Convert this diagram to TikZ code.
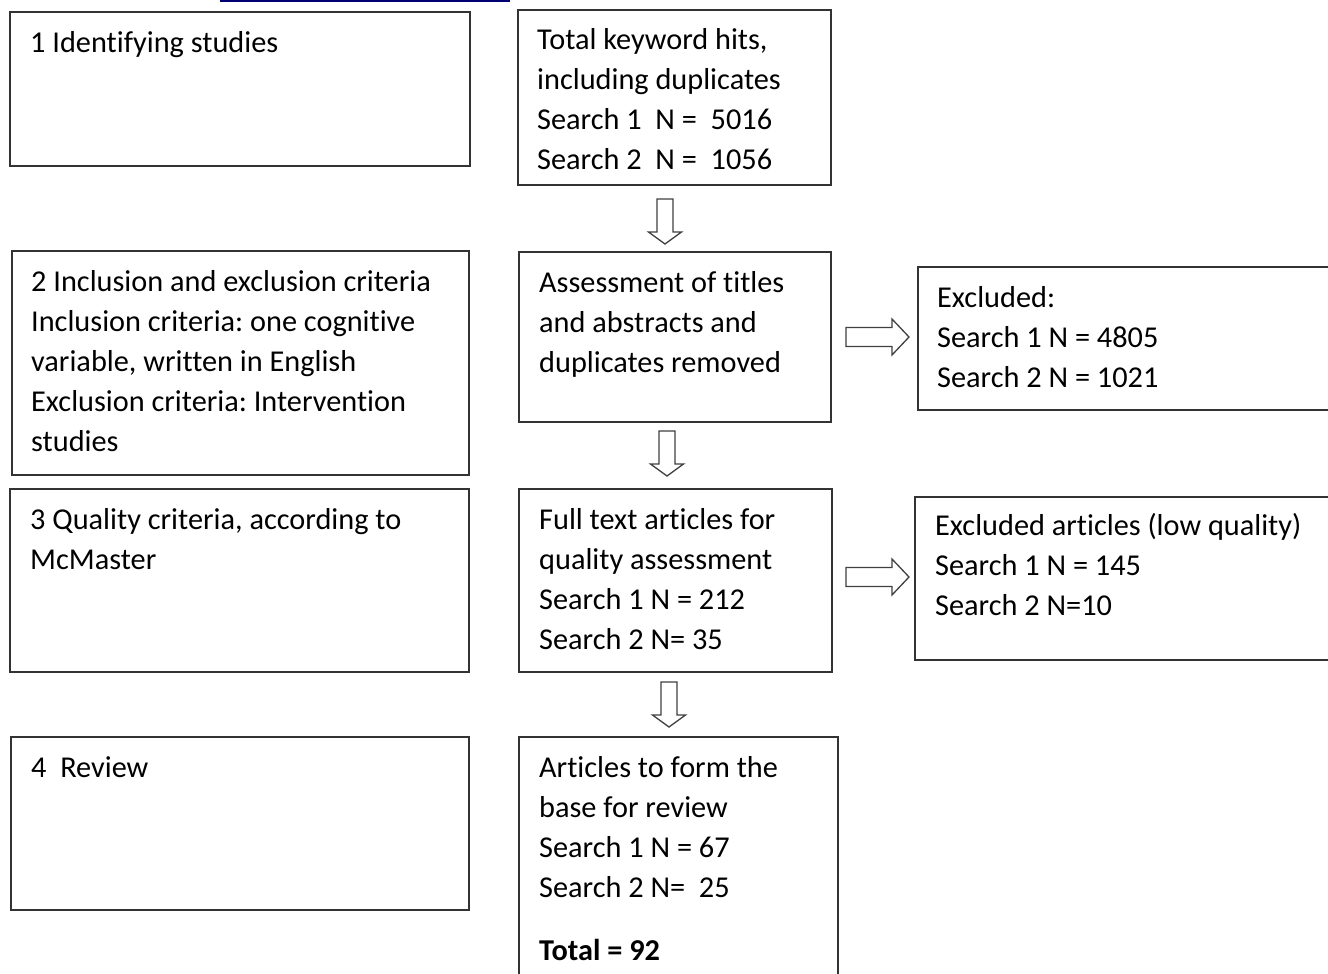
\documentclass[tikz,border=0pt]{standalone}
\usepackage{fontspec}
\setmainfont{Carlito}[Ligatures=NoCommon]
\usepackage{tikz}
\usetikzlibrary{calc}
\frenchspacing

\begin{document}
\begin{tikzpicture}[x=1pt,y=-1pt,
    box/.style={draw=black!80, line width=1.5pt, anchor=north west, inner sep=0pt, outer sep=0pt},
    txt/.style={anchor=north west, inner sep=0pt, align=left, font=\fontsize{30.3}{40}\selectfont},
    blockarrow/.style={draw=black!75, line width=1.3pt, fill=white, line join=miter}]
  \clip (0,0) rectangle (1328,974);
  \fill[white] (0,0) rectangle (1328,974);

  % link underline at the top
  \draw[blue!45!black, line width=2pt] (220,1) -- (510,1);

  % left column: stages
  \node[box, minimum width=460pt, minimum height=154pt] (ident) at (10,12) {};
  \node[box, minimum width=457pt, minimum height=224pt] (incl) at (12,251) {};
  \node[box, minimum width=459pt, minimum height=183pt] (qual) at (10,489) {};
  \node[box, minimum width=458pt, minimum height=173pt] (review) at (11,737) {};

  % middle column: counts
  \node[box, minimum width=313pt, minimum height=175pt] (hits) at (518,10) {};
  \node[box, minimum width=312pt, minimum height=170pt] (assess) at (519,252) {};
  \node[box, minimum width=313pt, minimum height=183pt] (full) at (519,489) {};
  \node[box, minimum width=319pt, minimum height=260pt] (base) at (519,737) {};

  % right column: exclusions
  \node[box, minimum width=450pt, minimum height=143pt] (exclA) at (918,267) {};
  \node[box, minimum width=450pt, minimum height=163pt] (exclB) at (915,497) {};

  % texts
  \node[txt] (identT) at ([shift={(20pt,-12pt)}]ident.north west) {\strut 1 Identifying studies};
  \node[txt] (inclT) at ([shift={(19pt,-12pt)}]incl.north west)
    {\strut 2 Inclusion and exclusion criteria\\Inclusion criteria: one cognitive\\variable, written in English\\Exclusion criteria: Intervention\\studies};
  \node[txt] (qualT) at ([shift={(20pt,-12pt)}]qual.north west) {\strut 3 Quality criteria, according to\\McMaster};
  \node[txt] (reviewT) at ([shift={(20pt,-12pt)}]review.north west) {\strut 4\ \ Review};

  \node[txt] (hitsT) at ([shift={(19pt,-11pt)}]hits.north west)
    {\strut Total keyword hits,\\including duplicates\\Search 1\ \ N =\ \ 5016\\Search 2\ \ N =\ \ 1056};
  \node[txt] (assessT) at ([shift={(20pt,-12pt)}]assess.north west)
    {\strut Assessment of titles\\and abstracts and\\duplicates removed};
  \node[txt] (fullT) at ([shift={(20pt,-12pt)}]full.north west)
    {\strut Full text articles for\\quality assessment\\Search 1 N = 212\\Search 2 N= 35};
  \node[txt] (baseT) at ([shift={(20pt,-12pt)}]base.north west)
    {\strut Articles to form the\\base for review\\Search 1 N = 67\\Search 2 N=\ \ 25\\[23pt]\textbf{Total = 92}};

  \node[txt] (exclAT) at ([shift={(19pt,-12pt)}]exclA.north west)
    {\strut Excluded:\\Search 1 N = 4805\\Search 2 N = 1021};
  \node[txt] (exclBT) at ([shift={(20pt,-10pt)}]exclB.north west)
    {\strut Excluded articles (low quality)\\Search 1 N = 145\\Search 2 N=10};

  % block arrows down
  \foreach \x/\y in {665/199, 667/431, 669/682}
    \draw[blockarrow] (\x-8,\y) -- (\x+8,\y) -- (\x+8,\y+33) -- (\x+16.5,\y+33)
      -- (\x,\y+45) -- (\x-16.5,\y+33) -- (\x-8,\y+33) -- cycle;

  % block arrows right
  \foreach \y in {337, 577}
    \draw[blockarrow] (846,\y-9.5) -- (892,\y-9.5) -- (892,\y-18) -- (909,\y)
      -- (892,\y+18) -- (892,\y+9.5) -- (846,\y+9.5) -- cycle;
\end{tikzpicture}
\end{document}
